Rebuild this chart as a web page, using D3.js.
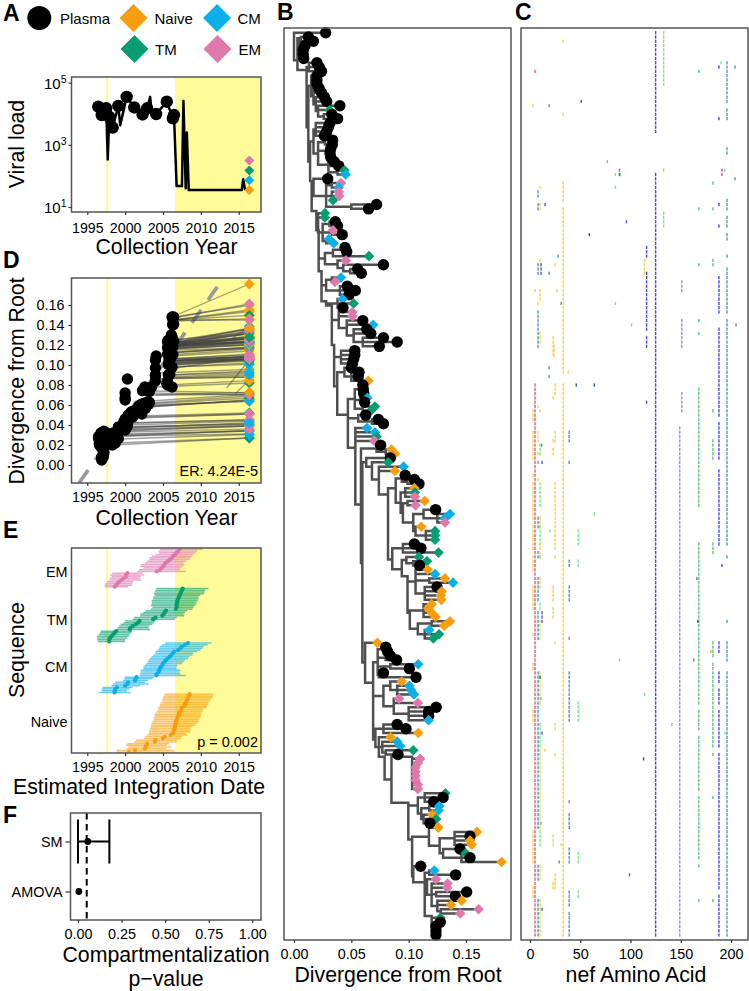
<!DOCTYPE html>
<html><head><meta charset="utf-8">
<script src="https://cdn.jsdelivr.net/npm/d3@7"></script>
<style>html,body{margin:0;padding:0;background:#fff}svg{display:block}text{font-family:"Liberation Sans",Arial,sans-serif;fill:#000}</style>
</head><body><svg id="c" width="749" height="991"></svg>
<script>
// ---------- data ----------
const seqTypes = ['Plasma','Naive','CM','TM','EM'];
const typeColors = ['#000000','#F79E0E','#0BB0E8','#069E70','#DF78AC'];
const legendOrder = [['Plasma'],['Naive','CM'],['TM','EM']];
const yearTicks = [1995,2000,2005,2010,2015];
const artYear = 2006.6, firstYear = 1997.6, lastYear = 2016.4;

const vlYears  = [1996.45,1996.9,1997.5,1997.7,1997.9,1998.35,1999.1,1999.35,2000.2,2001.2,2002.3,2002.9,2003.3,2003.5,2004.1,2005.5,2006.3,2006.45,2006.8,2007.5,2007.7,2008.0,2008.15,2008.4,2015.4,2015.6,2015.85];
const vlValues = [17000,9100,15000,340,8000,3600,18000,4300,35000,16000,9500,15000,35000,12000,9800,24500,7100,9100,47,47,26000,40,2500,35,35,78,35];
const vlCircle = [1,1,1,0,1,1,1,0,1,1,1,1,0,0,1,1,1,1,0,0,0,0,0,0,0,0,0];
const vlTypes  = ['Naive','CM','TM','EM'];
const vlTypeValues = [35,72,150,316];

const regressionYears = [1993.9,2013];
const regressionDivs  = [-0.018,0.187];

// tips, in tree order. divergence in 1/1000.
// Plasma: [div,'P',year,(optional div in panel D)]   cells: [div,type,lineStartYear,lineStartDiv]
const tips = [
[27.6,'P',1997.0],[12.5,'P',1997.2],[16.9,'P',1996.9],[9.6,'P',1997.1],[8,'P',1996.9],[8,'P',1997.1],[8.5,'P',1996.9,5],
[20,'P',1996.6],[22,'P',1996.6],[24,'P',1997.4],[20,'P',1996.9],[20,'P',1997.5],[20,'P',1998.3],[22,'P',1998.7],[24,'P',1998],[26.5,'P',1996.5],[28.5,'P',1996.5],[40,'P',2000.3],
[31,'T',1999,29],[33,'P',1997.2],[38,'P',1999.1],[31.4,'P',1997.8],[30,'P',1998.2],[28.5,'P',1998.9],[26.5,'P',1999.1],[33.7,'P',1997.2],[33.4,'P',1999.1],[32,'P',1998.4],[31.4,'P',1996.9],[32,'P',1996.8],[35,'P',2000],[39,'P',2000.3],
[44,'T',2000.4,40],[45,'C',2000.7,42],[29.4,'P',1997.5],[41,'E',2000.2,38],[39,'C',2000,35],[39,'E',1999.8,34],[39.5,'E',2000.2,36],[34,'T',1999.6,31],[72,'P',2000],[65,'P',2000],
[27,'T',1998.6,22],[27,'T',1998.3,20],[36,'P',1999.9],[38,'P',2000.2],[34,'E',1999.9,30],[42,'P',2000.1],[30.5,'C',1999.3,26],[34.6,'C',1999.8,29],[44.5,'P',2000.4],[46,'P',2000],
[65.4,'T',2002.8,58],[45.3,'E',2000.8,42],[78,'P',2000.3,86],[55.5,'P',2001.5],[58.7,'P',2001.8],[41,'C',2000.4,38],[35.8,'E',1999.7,33],[46.5,'P',2000.5],[53.5,'P',2001],[48,'P',2001],
[42.4,'C',2000.2,37],[52,'T',2001.8,49],[42.7,'P',1999.8],[51,'E',2001.6,47],[51,'E',2002.2,48],[60,'P',2002],[69,'C',2003.2,62],[63.4,'P',2003],[67,'P',2000],[78,'P',2002.6],[90,'P',2004],[74.4,'P',2002.3],
[53,'P',2000.8],[53,'P',2001.5],[52,'P',2001.2],[51,'P',2002.2],[50,'P',2000.4],[56.7,'P',2002.7],[56,'P',2002],[64.8,'N',2003,58],[60,'P',2002],[60.4,'P',2002.9],[60.8,'P',2003.1],[64,'C',2002.9,59],[61.6,'P',2002.4],[70.6,'T',2003.3,64],[67,'T',2002.8,61],[62.5,'P',2003.2],[73.5,'P',2003.2],[78,'P',2003.5],
[63.7,'C',2003,60],[70.6,'C',2003.6,70],[72,'T',2003.9,74],[70,'E',2003.2,72],[75.6,'P',2003.2],[85,'N',2014.5,71],[88,'N',2004.2,86],[84,'P',2004],[82,'T',2004,78],[95.6,'C',2004.6,92],[88,'N',2005.6,87],
[97,'P',2004],[105,'P',2004],[109,'P',2004.1],[105,'N',2013.4,77],[105.5,'T',2005.8,100],[105.5,'E',2005.6,101],[114,'N',2006.2,109],[106,'E',2006,104],[123.5,'P',2005.6],[136,'C',2006.2,124],[131.7,'C',2006.2,120],[131.7,'E',2006.2,122],[111,'N',2006,106],[123,'T',2005.8,118],[123,'T',2005.8,116],[123,'T',2006,120],
[105,'P',2005.8],[110.7,'P',2005.6],[126,'T',2005.8,119],[109,'T',2005.6,104],[116,'T',2005.9,110],[109.6,'P',2006],[116.6,'N',2006,113],[123,'C',2006.2,119],[131.7,'N',2006.2,120],[138.7,'C',2013.9,125],[124.7,'P',2005.7],[128.8,'N',2006.2,120],[128,'N',2006,118],[128.5,'N',2006.2,118],[120,'N',2006,116],[117,'N',2005.8,115],[120,'N',2006,117],[123.5,'N',2006.2,119],[136,'N',2006.2,122],[131,'N',2006.2,122],[118,'C',2005.8,112],[126.5,'T',2006,120],[121.5,'T',2006,118],
[72.7,'N',2004,70],[80,'P',2005.6],[81.6,'P',2005.5],[84,'P',2005.6],[89.5,'P',2004],[108.4,'C',2005.8,96],[100.6,'P',2005.7],[78,'P',2006.2],[106.4,'P',2006],[94,'N',2005.9,90],[100.6,'C',2005.9,98],[102,'C',2006,98],[104.6,'C',2006.1,101],[91.6,'E',2005.8,88],[108,'E',2006,104],[124,'P',2005.9],[117.4,'P',2006],[117.4,'P',2005.6],[117.4,'C',2006,112],
[90,'P',2005.7],[97.7,'P',2006.2],[108.4,'N',2006.2,104],[84.3,'N',2005.7,80],[90,'C',2005.9,87],[92.7,'C',2006,90],[104,'T',2006.2,100],[90.7,'P',2005.9],
[110,'E',2006,106],[108,'E',2006.2,105],[106,'E',2006,104],[106,'E',2006.1,103],[106,'E',2006.2,102],[106,'E',2006,102],[108,'E',2006.1,104],[108,'E',2006.2,106],
[132,'T',2006.2,125],[130,'P',2006.1],[121.8,'P',2006.2],[126.7,'C',2006.1,122],[126,'C',2006.2,120],[120.6,'N',2006,116],[124,'T',2006.2,120],[118.6,'P',2006.3],[125.9,'N',2006.2,122],[159.6,'N',2006.4,148],[153.5,'P',2006.4,148],[153.5,'N',2006.4,145],[155,'N',2006.4,145],[144.8,'P',2006.3,140],[149.7,'T',2006.3,145],[153.5,'P',2006.3,146],[181,'N',2006.5,149],
[110.5,'P',2006.3],[122.4,'C',2006.2,118],[141,'P',2006.3],[123.8,'E',2006.2,119],[134,'E',2006.3,122],[133.7,'E',2006.2,120],[150.6,'P',2006.2,148],[140.7,'P',2006.4],[146.2,'N',2006.3,144],[137,'N',2006.3,122],[161,'E',2006.4,147],[145,'E',2006.3,145],[127.6,'T',2006.3,122],[127.6,'P',2006.2],[123.8,'P',2006.4],[123.8,'P',2006.3],[123.8,'P',2006.1]
];
const typeByCode = {P:'Plasma',N:'Naive',C:'CM',T:'TM',E:'EM'};

// tree topology: [nodeDivergence, ...children]; a plain number n = the next n tips hang directly off this node
const t28 = [120,1,[122,1,[123,3]]];
const t27 = [114,[118,2],[116,1,[120,2,[124,2],[125,2,[128,2]]]],t28];
const t26 = [104,1,t27];
const t25 = [103,[117.7,1,[127,[140,4],[130,1,[146,3]]]],t26];
const t24 = [99.7,[108,[114,3],[111,[118,2],[113,3]]],t25];
const emClade = [103,8];
const t23 = [85,emClade,t24];
const t23a = [79,t23];
const t22 = [71,[78,3],[74,1,[77,2,[80,2]],t23a]];
const l2  = [78,[84,1,[90,3]],[87,2,[100,4]]];
const l1  = [73,[78,2],[80,2],[84,2],[74,2]];
const t21 = [69,l1,l2,t22];
const t20 = [62,1,t21];
const t19 = [101,[113,4],[108,[120,2],[114,3]]];
const t18 = [99,[106,2,[118,2],[114,1,3]],t19];
const t17 = [94,[98,1,[104,2]],t18];
const t16 = [85.7,[95,3],t17];
const t15 = [88.7,[94,1,[99,2]],[93,[97,3],[95,[99,2],[100,[104,[113,1,[125,3]],[106,1,[115,3]]]]]]];
const t14 = [82,t15,t16];
const t13c = [74,2,t14];
const t13b = [68,1,t13c];
const t13 = [63,1,t13b];
const t12 = [59.6,t13,t20];
const t11 = [58.4,[72,1,[80,2]],t12];
const t10 = [53.5,4,t11];
const t9  = [47,[53,[57,3],[58,2],[60,2]],[56,1,[68,2]],t10];
const t8b = [37.7,[44,1,[50,3]],t9];
const t8  = [35,[41,4],t8b];
const t7b = [33,[39,2,[46,2,[52,2,[60,3]]]],t8];
const t7  = [28,[38,3],t7b];
const t6  = [24,[28,[33,2],[40,3]],t7];
const dG  = [27,[34,[42,2],1],[38,1,[43,1,[49,2]]]];
const t5  = [21.5,dG,t6];
const cG  = [21,2,[25,[31,2],[33,2],[28,2]]];
const t4  = [19.5,cG,t5];
const bG  = [17,1,[28,[33,2],[33,3],[50,2]]];
const t3  = [15.4,bG,t4];
const a2  = [17,[19,4],[21,[27,2],[29,2],[30,3,[38,2]]]];
const t2  = [14,a2,t3];
const a1  = [15,3,[17,2,[19,2,[21,2,[26,2]]]]];
const t1b = [12.5,a1,t2];
const t1  = [11,[13,3],t1b];
const g1  = [4.5,[6,3],[6,3]];
const t0  = [3,g1,t1];
const treeShape = [0,1,t0];
const pinnedRows = new Map([[t0,6.4],[g1,1.3],[t1,8.7],[t1b,22],[t2,30],[t3,34.5],[t4,41.5],[t5,46],[t6,55.5],[t7,62.5],[t7b,63.5],[t8,72.7],[t8b,82.3],[t9,88.9],[t10,96.6],[t11,109.8],[t12,123.4],[t13,100],[t13b,101],[t13c,104],[t14,107.5],[t15,106],[t16,122.6],[t17,124.9],[t18,126.5],[t19,135],[t20,146.6],[t21,151.3],[t22,164.5],[t23a,168.5],[t23,173.8],[emClade,168.5],[t24,179.2],[t25,187.8],[t26,196.3],[t27,197.7],[t28,205.6]]);

// mutations: [amino acid, first row, last row, colour key]
const mutationColors = {r:'#EA5D68',y:'#F9D04A',g:'#5FC284',l:'#7DE686',s:'#5A94B8',b:'#4848DA',p:'#A090D6',n:'#34548E',m:'#E23CC4',a:'#ABABAB',d:'#2A7A50',o:'#F6AE34',i:'#5E54CC'};
const mutations = [
[125,0,23,'b'],[125,33,210,'b'],[133,0,12,'l'],[133,32,32,'l'],[133,42,45,'l'],
[33,2,2,'y'],[33,19,19,'y'],[33,35,39,'y'],[33,41,79,'y'],[38,79,79,'y'],[33,82,210,'y'],
[5,9,9,'r'],[5,82,210,'r'],[3,17,17,'y'],[19,17,17,'s'],[19,78,78,'s'],[19,80,80,'s'],[51,16,16,'i'],[77,30,30,'a'],[89,32,32,'m'],[89,33,33,'n'],[85,33,33,'l'],[90,33,33,'l'],[85,36,36,'l'],[85,63,63,'l'],
[168,9,9,'g'],[168,41,41,'g'],[168,54,54,'g'],[168,67,67,'g'],[168,70,70,'g'],[168,83,90,'g'],[168,91,110,'g'],[168,119,121,'g'],[168,122,156,'g'],[168,158,162,'g'],[168,164,176,'g'],[168,178,192,'g'],[168,194,194,'g'],[168,202,202,'g'],[166,127,127,'s'],[167,137,137,'d'],
[182,35,35,'g'],[182,41,41,'g'],[182,53,54,'g'],[182,88,88,'g'],[182,95,99,'g'],[182,119,121,'g'],[182,142,145,'g'],[182,147,166,'g'],[182,168,168,'g'],[182,178,178,'g'],[182,202,202,'g'],
[188,8,8,'b'],[188,20,20,'b'],[188,40,40,'b'],[188,45,45,'b'],[188,57,65,'b'],[188,69,89,'b'],[188,91,99,'b'],[188,102,119,'b'],[188,142,144,'b'],[188,149,151,'b'],[188,153,156,'b'],[188,158,166,'b'],[188,168,199,'b'],[188,201,210,'b'],
[190,7,7,'l'],[191,32,33,'m'],[193.7,32,32,'l'],[191,124,124,'i'],
[196,7,16,'s'],[196,18,20,'s'],[196,27,28,'s'],[196,39,41,'s'],[196,43,45,'s'],[196,47,48,'s'],[196,52,52,'s'],[196,55,65,'s'],[196,67,119,'s'],[196,122,122,'s'],[196,137,137,'s'],[196,142,146,'s'],[196,149,210,'s'],
[204,8,8,'s'],[204,34,34,'s'],[205,68,68,'s'],
[151,58,60,'p'],[151,67,73,'p'],[151,84,88,'p'],[149,92,98,'p'],[149,99,210,'p'],
[116,50,52,'b'],[116,56,67,'b'],[116,68,69,'b'],[116,71,73,'b'],[116,86,86,'b'],[114,53,56,'y'],
[8,37,38,'s'],[8,40,41,'s'],[8,54,56,'s'],[8,65,73,'s'],[10,36,36,'y'],[10,40,41,'y'],[10,53,53,'y'],[10,60,62,'y'],[10,70,72,'y'],[11,54,56,'i'],[15,40,40,'i'],[19,56,56,'s'],[25,54,54,'y'],[27,60,60,'y'],[5,60,60,'y'],[8,63,63,'y'],[28,52,52,'s'],[31,63,63,'s'],[59,47,47,'n'],[96,44,44,'i'],[101,68,68,'l'],
[23,71,75,'y'],[24,73,75,'y'],[25,82,84,'y'],[23,85,85,'y'],[23,95,95,'y'],[23,97,98,'y'],[25,93,95,'y'],[25,105,119,'y'],[25,120,120,'y'],[25,122,122,'y'],[46,82,82,'n'],[64,82,82,'n'],[8,87,87,'y'],[10,88,88,'y'],
[3,88,90,'y'],[3,93,98,'y'],[3,99,99,'y'],[3,103,103,'y'],[3,105,113,'y'],[3,115,120,'y'],[3,122,125,'y'],[3,129,134,'y'],[3,140,140,'y'],[3,147,148,'y'],[3,158,160,'y'],[3,186,193,'y'],[3,199,201,'y'],
[8,93,95,'y'],[8,98,98,'y'],[10,96,98,'l'],[11.6,96,96,'s'],[8,100,100,'s'],[12,100,100,'i'],[39,93,95,'s'],[39,100,100,'s'],[39,123,124,'s'],[39,129,132,'s'],[39,141,141,'s'],[8,104,104,'y'],[10,105,110,'l'],[8,113,115,'s'],[10,113,115,'y'],[10,115,119,'l'],[10,119,122,'y'],[8,121,122,'s'],[10,122,122,'l'],
[20,116,116,'l'],[48,116,119,'l'],[48,123,124,'l'],[64,112,112,'l'],[8,127,129,'s'],[10,127,129,'y'],[8,130,132,'s'],[10,133,134,'l'],[23,129,132,'y'],[23,134,136,'y'],[8,135,141,'s'],[12,135,137,'i'],[10,137,141,'y'],[25,142,142,'y'],[180,144,144,'o'],[89,146,146,'l'],[163,146,146,'s'],
[8,149,160,'s'],[10,149,156,'y'],[39,149,160,'s'],[10,150,150,'d'],[11,155,155,'a'],[48,156,160,'l'],[114,154,154,'l'],[141,161,161,'l'],[194,163,163,'l'],[25,161,162,'y'],[12,163,163,'i'],[15,167,167,'y'],[25,168,168,'y'],[113,169,169,'n'],
[8,161,185,'s'],[10,161,166,'l'],[10,167,185,'y'],[11,184,184,'a'],[39,179,179,'s'],[39,182,185,'s'],[39,190,193,'s'],[10,186,189,'l'],[23,187,189,'y'],[31,189,189,'y'],[29,193,193,'s'],[48,191,193,'l'],[48,200,201,'l'],[8,194,197,'s'],[10,194,197,'y'],[99,196,196,'i'],[25,196,199,'y'],[23,198,199,'y'],[39,200,203,'s'],[8,202,210,'s'],[10,202,210,'y'],[12,204,204,'i'],[39,205,210,'s']
];

const emRows = [[2007.2,2004.6,2010.2],[2007.0,2004.4,2009.5],[2006.8,2004.5,2009.3],[2006.6,2004.0,2009.0],[2006.3,2003.5,2008.8],[2006.2,2003.2,2008.6],[2005.9,2003.2,2008.5],[2005.6,2002.9,2008.1],[2005.3,2002.6,2007.7],[2005.2,2002.1,2007.8],[2005.0,2002.0,2007.6],[2004.8,2002.4,2007.3],[2004.6,2001.8,2007.2],[2004.2,2001.6,2008.0],[2000.3,1998.3,2002.3],[2000.1,1998.0,2002.5],[2000.1,1998.2,2002.1],[1999.8,1998.0,2002.0],[1999.5,1997.9,2002.1],[1999.2,1997.6,2001.1],[1999.0,1997.4,2001.0],[1998.8,1997.3,2000.9],[1998.6,1997.3,2000.4]];
const tmRows = [[2007.6,2004.1,2011.0],[2007.5,2004.0,2010.6],[2007.4,2003.9,2010.5],[2007.3,2003.8,2010.4],[2007.2,2003.9,2009.9],[2007.1,2003.7,2009.7],[2007.0,2003.7,2009.7],[2006.9,2003.5,2009.6],[2006.9,2003.5,2009.4],[2006.8,2003.5,2009.4],[2006.8,2003.4,2009.2],[2006.8,2003.6,2009.0],[2006.7,2003.4,2008.9],[2005.4,2002.7,2008.2],[2005.2,2002.4,2007.9],[2005.1,2002.0,2007.7],[2004.9,2002.0,2007.8],[2004.0,2001.2,2006.8],[2003.7,2001.0,2006.6],[2001.9,2000.0,2004.0],[2001.7,1999.8,2003.8],[2001.4,1999.4,2003.6],[2001.0,1999.2,2003.2],[2000.7,1999.0,2003.1],[2000.6,1998.9,2003.3],[1998.8,1996.8,2000.9],[1998.6,1996.7,2000.8],[1998.4,1996.5,2000.6],[1998.2,1996.3,2000.5],[1998.0,1996.3,2000.3],[1997.9,1996.3,2000.0],[1997.9,1996.4,2000.0]];
const cmRows = [[2008.3,2005.3,2011.4],[2007.9,2004.9,2010.9],[2007.5,2004.6,2010.4],[2007.3,2004.5,2010.2],[2007.0,2004.3,2010.0],[2006.5,2004.0,2009.5],[2006.3,2004.0,2009.0],[2006.1,2003.7,2008.9],[2005.9,2003.5,2008.5],[2005.6,2003.3,2008.3],[2005.4,2003.1,2007.9],[2005.2,2003.0,2007.7],[2005.0,2002.8,2007.5],[2004.9,2002.6,2006.9],[2004.7,2002.4,2006.8],[2004.6,2002.4,2006.8],[2004.5,2002.1,2007.3],[2004.4,2002.0,2007.2],[2004.2,2002.0,2007.3],[2004.1,2001.9,2008.0],[2001.5,1999.9,2003.8],[2001.4,1999.9,2003.6],[2001.3,1999.7,2003.0],[2000.4,1998.7,2002.6],[2000.3,1998.4,2003.1],[2000.0,1998.2,2002.0],[1998.9,1997.0,2001.0],[1998.7,1996.9,2000.6],[1998.6,1996.9,2000.2],[1998.6,1996.5,2000.7]];
const naiveRows = [[2008.5,2005.2,2011.7],[2008.4,2005.1,2011.6],[2008.3,2005.0,2011.5],[2008.2,2004.9,2011.3],[2008.1,2004.9,2011.2],[2008.0,2004.7,2011.0],[2007.9,2004.6,2011.0],[2007.8,2004.6,2010.8],[2007.5,2004.3,2010.7],[2007.4,2004.4,2010.3],[2007.3,2004.2,2010.2],[2007.1,2004.0,2010.1],[2007.1,2003.9,2010.0],[2007.0,2003.9,2010.0],[2006.9,2003.7,2009.9],[2006.8,2003.8,2009.8],[2006.7,2003.6,2009.7],[2006.7,2003.5,2009.5],[2006.6,2003.4,2009.3],[2006.6,2003.4,2008.9],[2006.5,2003.3,2008.6],[2006.5,2003.2,2008.6],[2006.4,2003.2,2008.6],[2006.3,2003.1,2008.0],[2006.0,2002.9,2008.2],[2005.2,2002.6,2007.5],[2005.0,2002.5,2007.4],[2004.0,2001.4,2006.9],[2003.9,2001.2,2006.8],[2002.9,2000.3,2005.8],[2002.8,2000.1,2005.5],[2002.7,2000.4,2006.1],[2002.6,2000.2,2005.4],[2001.3,1998.9,2006.5],[2000.5,1998.8,2006.6]];
const integrationGroups = ['EM','TM','CM','Naive'];
const integrationRows = [emRows,tmRows,cmRows,naiveRows];
const integrationTickRows = [13.7,42,69.5,102];

const compNames = ['SM','AMOVA'];
const compValues = [0.056,0.005];
const compLow = [0.0,null];
const compHigh = [0.18,null];
const compTicks = [0,0.25,0.5,0.75,1];

// ---------- drawing ----------
const svg = d3.select('#c');
const FRAME='#565656', YELLOW='#FFFB99', FS=14.4, TS=21.3;
const col = d3.scaleOrdinal(seqTypes,typeColors);
const diamond = h => d3.symbol().type(d3.symbolSquare).size(2*h*h)();
function txt(x,y,s,size,anchor,rot,weight){
  const t=svg.append('text').attr('x',x).attr('y',y).attr('font-size',size).attr('text-anchor',anchor||'middle').text(s);
  if(rot) t.attr('transform',`rotate(${rot} ${x} ${y})`);
  if(weight) t.attr('font-weight',weight);
  return t;
}
function frame(b){ svg.append('rect').attr('x',b.l).attr('y',b.t).attr('width',b.r-b.l).attr('height',b.b-b.t).attr('fill','none').attr('stroke',FRAME).attr('stroke-width',1.5); }
function styleAxis(g,size){
  g.select('.domain').remove();
  g.selectAll('line').attr('stroke','#333').attr('stroke-width',1.2);
  g.selectAll('text').attr('font-size',size||FS).attr('font-family','"Liberation Sans",Arial,sans-serif').attr('fill','#000');
}
function clip(id,b){ svg.append('clipPath').attr('id',id).append('rect').attr('x',b.l).attr('y',b.t).attr('width',b.r-b.l).attr('height',b.b-b.t); return `url(#${id})`; }
function yearX(b){ return d3.scaleLinear().domain([1995,2015]).range([87.3,238.7]); }
function yellow(g,b,x){
  g.append('rect').attr('x',x(artYear)).attr('y',b.t).attr('width',b.r-x(artYear)).attr('height',b.b-b.t).attr('fill',YELLOW);
  g.append('rect').attr('x',x(firstYear)-1).attr('y',b.t).attr('width',2.2).attr('height',b.b-b.t).attr('fill',YELLOW);
}
function yearAxis(b,x,ly){
  const g=svg.append('g').attr('transform',`translate(0,${b.b})`).call(d3.axisBottom(x).tickValues(yearTicks).tickFormat(d3.format('d')).tickSize(3).tickPadding(5));
  styleAxis(g,14.2);
  g.selectAll('text').attr('dy',null).attr('y',ly-b.b);
}

// legend
txt(3,21,'A',23,'start',0,'bold');
txt(3,268,'D',23,'start',0,'bold');
txt(3,538,'E',23,'start',0,'bold');
txt(3,823,'F',23,'start',0,'bold');
txt(277,20,'B',23,'start',0,'bold');
txt(515,20,'C',23,'start',0,'bold');
const legendPos = {Plasma:[39.3,18,60,12],Naive:[133.5,18,154.5,14],CM:[217,18,237.5,14],TM:[134.5,49,155,14],EM:[217.5,49,238.5,14]};
legendOrder.flat().forEach(n=>{
  const p=legendPos[n];
  if(n==='Plasma') svg.append('circle').attr('cx',p[0]).attr('cy',p[1]).attr('r',p[3]).attr('fill','#000');
  else svg.append('path').attr('d',diamond(p[3])).attr('transform',`translate(${p[0]},${p[1]}) rotate(45)`).attr('fill',col(n));
  txt(p[2],p[1]+5.5,n,15,'start');
});

// A
(function(){
  const b={l:71.5,r:261,t:77,b:212};
  const x=yearX(b), y=d3.scaleLog().domain([10,100000]).range([207,82.7]);
  const g=svg.append('g').attr('clip-path',clip('ca',b));
  yellow(g,b,x);
  const pts=vlYears.map((v,i)=>({x:v,y:vlValues[i],c:vlCircle[i]}));
  g.append('path').datum(pts).attr('d',d3.line().x(d=>x(d.x)).y(d=>y(d.y))).attr('fill','none').attr('stroke','#000').attr('stroke-width',2.5).attr('stroke-linejoin','round');
  g.selectAll('.p').data(pts.filter(d=>d.c)).join('circle').attr('cx',d=>x(d.x)).attr('cy',d=>y(d.y)).attr('r',6.2).attr('fill','#000');
  vlTypes.forEach((n,i)=>g.append('path').attr('d',diamond(5)).attr('transform',`translate(${x(lastYear)},${y(vlTypeValues[i])}) rotate(45)`).attr('fill',col(n)));
  frame(b); yearAxis(b,x,233);
  const ya=svg.append('g').attr('transform',`translate(${b.l},0)`).call(d3.axisLeft(y).tickValues([10,1000,100000]).tickFormat('').tickSize(3));
  styleAxis(ya);
  [10,1000,100000].forEach(v=>{
    const t=txt(66.5,y(v)+6,'10',15,'end');
    t.append('tspan').attr('dy',-6).attr('font-size',10.5).text(Math.round(Math.log10(v)));
  });
  svg.append('text').attr('transform','translate(24,144) rotate(-90)').attr('text-anchor','middle').attr('font-size',TS).text('Viral load');
  txt(166.5,254,'Collection Year',TS);
})();

// D
(function(){
  const b={l:71.5,r:261,t:278,b:483};
  const x=yearX(b), y=d3.scaleLinear().domain([0,0.16]).range([465,305]);
  const g=svg.append('g').attr('clip-path',clip('cd',b));
  yellow(g,b,x);
  g.append('line').attr('x1',x(regressionYears[0])).attr('x2',x(regressionYears[1])).attr('y1',y(regressionDivs[0])).attr('y2',y(regressionDivs[1])).attr('stroke','#999').attr('stroke-width',3.6).attr('stroke-dasharray','16 12');
  const cells=tips.filter(d=>d[1]!=='P'), plasma=tips.filter(d=>d[1]==='P');
  g.selectAll('.l').data(cells).join('line').attr('x1',d=>x(d[2])).attr('y1',d=>y(d[3]/1000)).attr('x2',x(lastYear)).attr('y2',d=>y(d[0]/1000)).attr('stroke','#444').attr('stroke-opacity',.5).attr('stroke-width',1.3);
  g.selectAll('.d').data(cells).join('path').attr('d',diamond(5.4)).attr('transform',d=>`translate(${x(lastYear)},${y(d[0]/1000)}) rotate(45)`).attr('fill',d=>col(typeByCode[d[1]]));
  g.selectAll('.c').data(plasma).join('circle').attr('cx',d=>x(d[2])).attr('cy',d=>y((d[3]||d[0])/1000)).attr('r',5.7).attr('fill','#000');
  frame(b); yearAxis(b,x,502);
  const ya=svg.append('g').attr('transform',`translate(${b.l},0)`).call(d3.axisLeft(y).tickValues([0,.02,.04,.06,.08,.1,.12,.14,.16]).tickFormat(d3.format('.2f')).tickSize(3).tickPadding(4));
  styleAxis(ya,14.4);
  svg.append('text').attr('transform','translate(24,381) rotate(-90)').attr('text-anchor','middle').attr('font-size',TS).text('Divergence from Root');
  txt(258,476,'ER: 4.24E-5',14.4,'end');
  txt(166.5,525,'Collection Year',TS);
})();

// E
(function(){
  const b={l:71.5,r:261,t:548,b:753};
  const x=yearX(b);
  const total=d3.sum(integrationRows,r=>r.length);
  const y=d3.scaleLinear().domain([0,total]).range([b.t+.5,b.b]);
  const g=svg.append('g').attr('clip-path',clip('ce',b));
  yellow(g,b,x);
  let row=0;
  integrationRows.forEach((rows,gi)=>{
    const c=col(integrationGroups[gi]);
    rows.forEach(r=>{
      const yy=y(row+.5);
      g.append('line').attr('x1',x(r[1])).attr('x2',x(r[2])).attr('y1',yy).attr('y2',yy).attr('stroke',c).attr('stroke-width',1.5).attr('stroke-opacity',.62);
      row++;
    });
    let rr=row-rows.length;
    rows.forEach(r=>{ g.append('circle').attr('cx',x(r[0])).attr('cy',y(rr+.5)).attr('r',2.1).attr('fill',c); rr++; });
  });
  frame(b); yearAxis(b,x,771.5);
  const ya=svg.append('g').attr('transform',`translate(${b.l},0)`).call(d3.axisLeft(y).tickValues(integrationTickRows).tickFormat((d,i)=>integrationGroups[i]).tickSize(0).tickPadding(4));
  styleAxis(ya,14.4);
  svg.append('text').attr('transform','translate(24,650) rotate(-90)').attr('text-anchor','middle').attr('font-size',TS).text('Sequence');
  txt(258,747,'p = 0.002',14.5,'end');
  txt(139,794,'Estimated Integration Date',TS);
})();

// F
(function(){
  const b={l:70.5,r:261,t:813,b:920};
  const x=d3.scaleLinear().domain([0,1]).range([78,252.3]);
  const y=d3.scalePoint().domain(compNames).range([b.t,b.b]).padding(.57);
  svg.append('line').attr('x1',x(.05)).attr('x2',x(.05)).attr('y1',b.t).attr('y2',b.b).attr('stroke','#000').attr('stroke-width',2).attr('stroke-dasharray','6.5 4.5');
  compNames.forEach((n,i)=>{
    if(compLow[i]!==null){
      svg.append('line').attr('x1',x(compLow[i])).attr('x2',x(compHigh[i])).attr('y1',y(n)).attr('y2',y(n)).attr('stroke','#000').attr('stroke-width',2);
      [compLow[i],compHigh[i]].forEach(v=>svg.append('line').attr('x1',x(v)).attr('x2',x(v)).attr('y1',y(n)-22).attr('y2',y(n)+22).attr('stroke','#000').attr('stroke-width',2));
    }
    svg.append('circle').attr('cx',x(compValues[i])).attr('cy',y(n)).attr('r',3.4).attr('fill','#000');
  });
  frame(b);
  const xa=svg.append('g').attr('transform',`translate(0,${b.b})`).call(d3.axisBottom(x).tickValues(compTicks).tickFormat(d3.format('.2f')).tickSize(3).tickPadding(5));
  styleAxis(xa,14.4); xa.selectAll('text').attr('dy',null).attr('y',939-b.b);
  const ya=svg.append('g').attr('transform',`translate(${b.l},0)`).call(d3.axisLeft(y).tickSize(5).tickPadding(3));
  styleAxis(ya,14.4);
  txt(166,961.5,'Compartmentalization',TS);
  txt(166,985.8,'p\u2212value',TS);
})();

// B
const rowY = d3.scaleLinear().domain([0,210]).range([32.7,935]);
(function(){
  const b={l:284,r:511,t:28,b:940};
  const x=d3.scaleLinear().domain([0,.15]).range([294,466]);
  let tipIndex=0;
  const build=a=>{
    const kids=[];
    a.slice(1).forEach(c=>{
      if(Array.isArray(c)) kids.push(build(c));
      else for(let i=0;i<c;i++){ kids.push({tip:tipIndex,row:tipIndex,d:tips[tipIndex]?tips[tipIndex][0]:a[0]}); tipIndex++; }
    });
    const n={d:a[0],children:kids};
    n.row=pinnedRows.has(a)?pinnedRows.get(a):(kids[0].row+kids[kids.length-1].row)/2;
    return n;
  };
  const root=d3.hierarchy(build(treeShape));
  console.log('tips placed',tipIndex,'of',tips.length);
  const px=v=>x(v/1000);
  const pathD=d3.path();
  root.descendants().forEach(n=>{
    if(n.children){
      const r=n.children.map(c=>c.data.row).concat(n.data.row);
      pathD.moveTo(px(n.data.d),rowY(d3.min(r))); pathD.lineTo(px(n.data.d),rowY(d3.max(r)));
      n.children.forEach(c=>{ pathD.moveTo(px(n.data.d),rowY(c.data.row)); pathD.lineTo(px(c.data.d),rowY(c.data.row)); });
    }
  });
  const g=svg.append('g');
  g.append('path').attr('d',pathD.toString()).attr('fill','none').attr('stroke','#4f4f4f').attr('stroke-width',2.5).attr('stroke-linecap','square');
  g.selectAll('.t').data(tips).join(e=>e.append('path'))
    .attr('d',d=>d[1]==='P'?d3.symbol().type(d3.symbolCircle).size(Math.PI*5.7*5.7)():diamond(5.3))
    .attr('transform',(d,i)=>`translate(${px(d[0])},${rowY(i)})`+(d[1]==='P'?'':' rotate(45)'))
    .attr('fill',d=>col(typeByCode[d[1]]));
  frame(b);
  const xa=svg.append('g').attr('transform',`translate(0,${b.b})`).call(d3.axisBottom(x).tickValues([0,.05,.1,.15]).tickFormat(d3.format('.2f')).tickSize(3).tickPadding(5));
  styleAxis(xa,14.4); xa.selectAll('text').attr('dy',null).attr('y',959-b.b);
  txt(398,981.5,'Divergence from Root',TS);
})();

// C
(function(){
  const b={l:521,r:748,t:28,b:940};
  const x=d3.scaleLinear().domain([0,200]).range([530,731]);
  const cells=mutations.flatMap(m=>d3.range(m[1],m[2]+1).map(r=>({a:m[0],r,c:m[3]})));
  svg.append('g').selectAll('rect').data(cells).join('rect')
    .attr('x',d=>x(d.a)-.7).attr('y',d=>rowY(d.r)-1.6).attr('width',1.4).attr('height',3.2)
    .attr('fill',d=>mutationColors[d.c]);
  frame(b);
  const xa=svg.append('g').attr('transform',`translate(0,${b.b})`).call(d3.axisBottom(x).tickValues([0,50,100,150,200]).tickSize(3).tickPadding(5));
  styleAxis(xa,14.4); xa.selectAll('text').attr('dy',null).attr('y',959-b.b);
  txt(636,981.5,'nef Amino Acid',TS);
})();
</script></body></html>
